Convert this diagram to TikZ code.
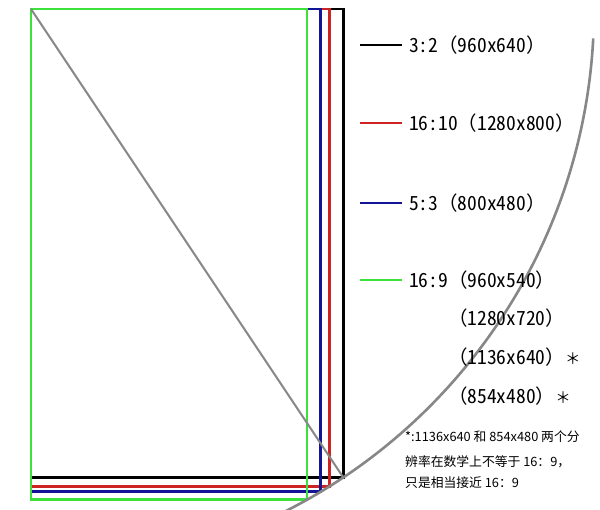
\documentclass[tikz,border=0pt]{standalone}
\usepackage{fontspec}
\setmainfont{Noto Sans CJK SC}
\newfontfamily\legfont[RawFeature=+hwid]{Noto Sans CJK SC}
\newcommand{\lpar}{{\rmfamily （}}
\newcommand{\rpar}{{\rmfamily ）}}
\newcommand{\fwstar}{{\rmfamily\fontsize{15.5}{15.5}\selectfont ＊}}
\usetikzlibrary{calc}
\definecolor{cblack}{RGB}{0,0,0}
\definecolor{cred}{RGB}{205,35,35}
\definecolor{cblue}{RGB}{20,20,150}
\definecolor{cgreen}{RGB}{60,225,60}
\definecolor{cgray}{RGB}{135,135,135}
\begin{document}
\begin{tikzpicture}[x=1pt,y=1pt,
  frame/.style={line width=2.8pt},
  legline/.style={line width=2.8pt},
  legtext/.style={anchor=west,inner sep=0pt,font=\legfont\fontsize{19.5}{19.5}\selectfont},
  notetext/.style={anchor=west,inner sep=0pt,font=\fontsize{12.8}{12.8}\selectfont}]
\useasboundingbox (0,0) rectangle (600,-510);
\clip (0,0) rectangle (600,-510);
\fill[white] (0,0) rectangle (600,-510);
\coordinate (O) at (31,-9);
\coordinate (Bk) at ($(O)+(-56.31:563)$);
\coordinate (Rd) at ($(O)+(-57.99:563)$);
\coordinate (Bl) at ($(O)+(-59.04:563)$);
\coordinate (Gr) at ($(O)+(-60.64:563)$);
% rectangles
\draw[frame,cblack] (O) rectangle (Bk);
\draw[frame,cred] (O) rectangle (Rd);
\draw[frame,cblue] (O) rectangle (Bl);
\draw[frame,cgreen] (O) rectangle (Gr);
% diagonal
\draw[line width=2pt,cgray] (O) -- (Bk);
% arc
\coordinate (A0) at ($(O)+(-3:563)$);
\draw[line width=2.6pt,cgray] (A0) arc[start angle=-3,end angle=-75,radius=563];
% legend
\coordinate (l1a) at (360,-45); \coordinate (l1b) at (402,-45);
\coordinate (l2a) at (360,-123); \coordinate (l2b) at (402,-123);
\coordinate (l3a) at (360,-203); \coordinate (l3b) at (402,-203);
\coordinate (l4a) at (360,-280); \coordinate (l4b) at (402,-280);
\draw[legline,cblack] (l1a) -- (l1b);
\draw[legline,cred] (l2a) -- (l2b);
\draw[legline,cblue] (l3a) -- (l3b);
\draw[legline,cgreen] (l4a) -- (l4b);
\node[legtext] (t1) at (409,-45) {3:2\lpar 960x640\rpar};
\node[legtext] (t2) at (409,-123) {16:10\lpar 1280x800\rpar};
\node[legtext] (t3) at (409,-203) {5:3\lpar 800x480\rpar};
\node[legtext] (t4) at (409,-280) {16:9\lpar 960x540\rpar};
\node[legtext] (t5) at (409,-318) {\phantom{16:9}\lpar 1280x720\rpar};
\node[legtext] (t6) at (409,-357) {\phantom{16:9}\lpar 1136x640\rpar\fwstar};
\node[legtext] (t7) at (409,-396) {\phantom{16:9}\lpar 854x480\rpar\fwstar};
% note
\node[notetext] (n1) at (405,-437) {*:1136x640 和 854x480 两个分};
\node[notetext] (n2) at (405,-462) {辨率在数学上不等于 16：9，};
\node[notetext] (n3) at (405,-483) {只是相当接近 16：9};
\end{tikzpicture}
\end{document}
